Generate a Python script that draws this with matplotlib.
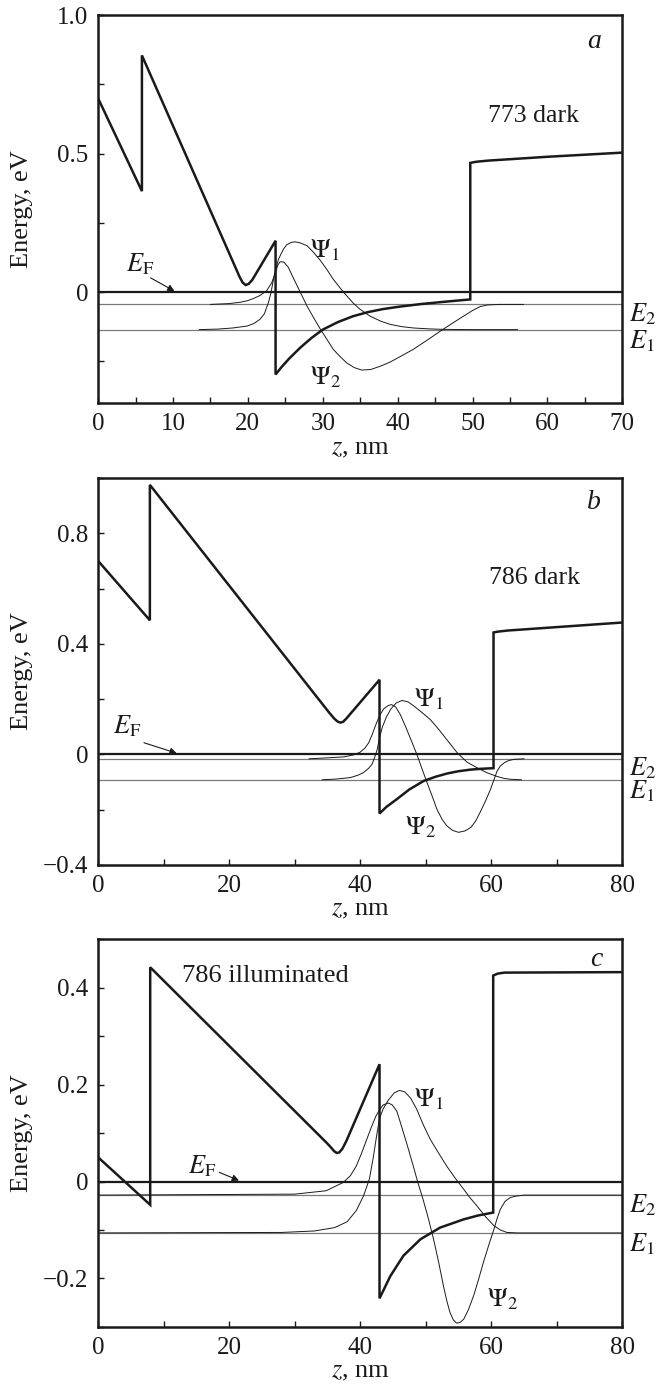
"""Conduction band profiles with subband levels and wavefunctions, three panels."""

import matplotlib
matplotlib.use("Agg")
import matplotlib.pyplot as plt
import matplotlib.ticker as mticker
import matplotlib.transforms as mtransforms

plt.rcParams["font.family"] = ["Liberation Serif", "DejaVu Serif"]
plt.rcParams["mathtext.fontset"] = "stix"

BLACK = "#1a1a1a"
GREY = "#7a7a7a"

# --- panel a: 773 dark ---
z_pot_a = [0, 5.85, 5.85, 18.3, 18.9, 19.3, 19.7, 20.1, 20.6, 23.7, 23.7, 24.5, 25.5, 27.0,
           28.5, 30.0, 32.0, 34.0, 36.0, 38.0, 40.0, 43.0, 46.0, 49.7, 49.7, 50.5, 52.0, 60.0, 70.0]
v_pot_a = [0.70, 0.365, 0.855, 0.092, 0.055, 0.035, 0.026, 0.030, 0.045, 0.186, -0.297, -0.27,
           -0.24, -0.20, -0.165, -0.135, -0.108, -0.087, -0.072, -0.061, -0.053, -0.043, -0.035,
           -0.026, 0.467, 0.471, 0.475, 0.489, 0.504]
e1_a, e2_a = -0.135, -0.044
z_psi1_a = [13.5, 16.0, 18.0, 19.9, 20.8, 21.6, 22.2, 22.75, 23.1, 23.42, 23.73, 24.1, 24.76,
            25.2, 25.8, 26.3, 26.9, 27.9, 28.8, 29.7, 30.6, 31.4, 32.3, 33.2, 34.1, 35.0, 36.3,
            37.7, 39.0, 40.5, 42.1, 44.0, 46.0, 50.0, 56.0]
v_psi1_a = [-0.135, -0.133, -0.129, -0.122, -0.113, -0.098, -0.078, -0.037, 0.0, 0.047, 0.085,
            0.12, 0.156, 0.172, 0.180, 0.182, 0.179, 0.168, 0.143, 0.114, 0.08, 0.047, 0.016,
            -0.013, -0.04, -0.062, -0.086, -0.104, -0.116, -0.124, -0.129, -0.132, -0.134,
            -0.135, -0.135]
z_psi2_a = [15.0, 17.5, 19.0, 19.9, 20.8, 21.6, 22.5, 23.2, 23.73, 24.0, 24.3, 24.8, 25.4, 26.1,
            27.0, 27.9, 28.8, 29.7, 30.6, 31.4, 32.3, 33.2, 34.2, 35.2, 36.4, 37.7, 39.0, 40.5,
            42.1, 44.0, 46.0, 48.0, 50.0, 51.0, 52.0, 53.5, 56.8]
v_psi2_a = [-0.044, -0.041, -0.036, -0.031, -0.022, -0.012, 0.005, 0.035, 0.075, 0.098, 0.110,
            0.109, 0.090, 0.050, 0.0, -0.05, -0.093, -0.134, -0.172, -0.206, -0.232, -0.255,
            -0.272, -0.281, -0.279, -0.267, -0.252, -0.23, -0.206, -0.172, -0.135, -0.100,
            -0.066, -0.052, -0.046, -0.044, -0.044]

# --- panel b: 786 dark ---
z_pot_b = [0, 7.9, 7.9, 35.3, 36.1, 36.6, 37.0, 37.4, 37.9, 42.95, 42.95, 44.0, 45.6, 47.5,
           49.7, 51.5, 53.3, 55.0, 56.9, 58.6, 60.35, 60.35, 61.0, 62.5, 80.0]
v_pot_b = [0.70, 0.485, 0.975, 0.150, 0.128, 0.118, 0.115, 0.118, 0.130, 0.270, -0.214, -0.19,
           -0.162, -0.127, -0.096, -0.081, -0.069, -0.061, -0.055, -0.052, -0.050, 0.441, 0.444,
           0.448, 0.477]
e1_b, e2_b = -0.092, -0.016
z_psi1_b = [34.2, 36.5, 38.5, 39.7, 40.5, 41.3, 41.8, 42.3, 42.6, 42.95, 43.4, 44.0, 44.7, 45.5,
            46.4, 47.3, 48.2, 49.5, 50.7, 52.0, 53.4, 54.8, 56.3, 57.8, 59.3, 60.9, 62.0, 62.9,
            64.6]
v_psi1_b = [-0.092, -0.089, -0.084, -0.075, -0.066, -0.05, -0.036, -0.005, 0.018, 0.06, 0.10,
            0.135, 0.165, 0.186, 0.195, 0.19, 0.175, 0.150, 0.126, 0.09, 0.048, 0.006, -0.028,
            -0.048, -0.066, -0.080, -0.087, -0.090, -0.092]
z_psi2_b = [32.2, 35.4, 37.5, 39.0, 40.0, 40.7, 41.3, 41.8, 42.3, 42.95, 43.6, 44.3, 44.8, 45.4,
            46.1, 46.9, 47.8, 48.65, 49.4, 50.2, 51.0, 51.7, 52.5, 53.2, 54.1, 55.0, 56.0, 56.9,
            57.6, 58.3, 59.1, 59.9, 60.4, 60.9, 61.4, 62.0, 62.7, 63.5, 65.0]
v_psi2_b = [-0.016, -0.012, -0.009, -0.002, 0.008, 0.022, 0.042, 0.07, 0.102, 0.14, 0.165,
            0.177, 0.18, 0.172, 0.145, 0.102, 0.05, 0.0, -0.05, -0.102, -0.152, -0.198, -0.235,
            -0.258, -0.275, -0.282, -0.277, -0.264, -0.242, -0.21, -0.17, -0.126, -0.093,
            -0.060, -0.042, -0.030, -0.022, -0.018, -0.016]

# --- panel c: 786 illuminated ---
z_pot_c = [0, 7.95, 7.95, 34.8, 35.5, 36.0, 36.4, 36.8, 37.3, 37.9, 42.95, 42.95, 44.6, 46.6,
           49.2, 52.2, 55.8, 58.0, 60.3, 60.3, 61.0, 62.0, 80.0]
v_pot_c = [0.05, -0.048, 0.442, 0.081, 0.071, 0.063, 0.059, 0.060, 0.068, 0.084, 0.242, -0.241,
           -0.195, -0.153, -0.119, -0.095, -0.078, -0.070, -0.064, 0.425, 0.429, 0.431, 0.432]
e1_c, e2_c = -0.106, -0.028
z_psi1_c = [0, 28.0, 33.0, 36.1, 38.0, 39.4, 40.5, 41.4, 42.0, 42.5, 42.95, 43.5, 44.3, 45.2,
            46.0, 46.8, 47.7, 48.6, 49.6, 50.7, 52.0, 53.2, 54.5, 55.8, 56.8, 57.8, 59.1, 60.4,
            61.4, 62.4, 64.0, 80.0]
v_psi1_c = [-0.106, -0.105, -0.102, -0.095, -0.083, -0.06, -0.03, 0.005, 0.05, 0.094, 0.13,
            0.15, 0.168, 0.183, 0.188, 0.185, 0.172, 0.150, 0.118, 0.087, 0.058, 0.032, 0.007,
            -0.016, -0.034, -0.050, -0.072, -0.091, -0.100, -0.105, -0.106, -0.106]
z_psi2_c = [0, 30.0, 34.8, 37.4, 38.5, 39.4, 40.2, 41.0, 41.7, 42.4, 42.95, 43.5, 44.3, 44.9,
            45.6, 46.6, 47.4, 48.1, 48.8, 49.6, 50.4, 51.2, 52.0, 52.7, 53.2, 53.7, 54.2, 54.7,
            55.2, 55.8, 56.5, 57.3, 58.0, 58.8, 59.6, 60.4, 60.9, 61.4, 62.1, 62.9, 63.8, 65.0,
            80.0]
v_psi2_c = [-0.028, -0.026, -0.019, -0.002, 0.012, 0.032, 0.058, 0.087, 0.112, 0.135, 0.148,
            0.158, 0.162, 0.158, 0.145, 0.101, 0.065, 0.032, -0.002, -0.037, -0.076, -0.119,
            -0.168, -0.215, -0.245, -0.270, -0.285, -0.292, -0.291, -0.284, -0.265, -0.236,
            -0.205, -0.167, -0.132, -0.099, -0.076, -0.057, -0.041, -0.033, -0.030, -0.028,
            -0.028]

PANELS = [
    dict(pos=[0.146, 0.709, 0.780, 0.280], xlim=(0, 70), ylim=(-0.4, 1.0),
         xmaj=10, xmin=5, ymin=0.25, yticks=[0, 0.5, 1.0],
         pot=(z_pot_a, v_pot_a), e1=e1_a, e2=e2_a,
         psi1=(z_psi1_a, v_psi1_a), psi2=(z_psi2_a, v_psi2_a),
         letter=("a", 66.3, 0.905), sample=("773 dark", 58.2, 0.636, "center", 18.5),
         psi1_lbl=(30.3, 0.152), psi2_lbl=(30.3, -0.305),
         ef_lbl=(5.6, 0.10), ef_arrow=((7.0, 0.052), (10.2, 0.004))),
    dict(pos=[0.146, 0.3755, 0.780, 0.2794], xlim=(0, 80), ylim=(-0.4, 1.0),
         xmaj=20, xmin=10, ymin=0.2, yticks=[-0.4, 0, 0.4, 0.8],
         pot=(z_pot_b, v_pot_b), e1=e1_b, e2=e2_b,
         psi1=(z_psi1_b, v_psi1_b), psi2=(z_psi2_b, v_psi2_b),
         letter=("b", 75.7, 0.91), sample=("786 dark", 66.6, 0.637, "center", 18.5),
         psi1_lbl=(50.5, 0.198), psi2_lbl=(49.2, -0.264),
         ef_lbl=(4.4, 0.102), ef_arrow=((7.0, 0.042), (12.0, 0.004))),
    dict(pos=[0.146, 0.0419, 0.780, 0.280], xlim=(0, 80), ylim=(-0.3, 0.5),
         xmaj=20, xmin=10, ymin=0.1, yticks=[-0.2, 0, 0.2, 0.4],
         pot=(z_pot_c, v_pot_c), e1=e1_c, e2=e2_c,
         psi1=(z_psi1_c, v_psi1_c), psi2=(z_psi2_c, v_psi2_c),
         letter=("c", 76.1, 0.458), sample=("786 illuminated", 12.8, 0.423, "left", 19),
         psi1_lbl=(50.5, 0.169), psi2_lbl=(61.7, -0.242),
         ef_lbl=(15.8, 0.032), ef_arrow=((18.5, 0.019), (21.5, 0.002))),
]


def tick_text(value, _):
    """Format tick labels as 0, 0.5, -0.4 with a real minus sign."""
    if abs(value) < 1e-9:
        return "0"
    return f"{value:.1f}".replace("-", "\u2212")


fig = plt.figure(figsize=(6.72, 13.85), dpi=100)

for panel in PANELS:
    ax = fig.add_axes(panel["pos"])
    ax.set_xlim(*panel["xlim"])
    ax.set_ylim(*panel["ylim"])

    # subband levels (grey) and Fermi level
    ax.axhline(panel["e2"], color=GREY, lw=0.9, zorder=1)
    ax.axhline(panel["e1"], color=GREY, lw=0.9, zorder=1)
    ax.axhline(0, color=BLACK, lw=1.6, zorder=3)

    # wavefunctions
    ax.plot(*panel["psi1"], color=BLACK, lw=0.7, zorder=2)
    ax.plot(*panel["psi2"], color=BLACK, lw=0.7, zorder=2)

    # conduction band edge
    ax.plot(*panel["pot"], color=BLACK, lw=1.8, zorder=4, solid_joinstyle="miter")

    ax.xaxis.set_major_locator(mticker.MultipleLocator(panel["xmaj"]))
    ax.xaxis.set_minor_locator(mticker.MultipleLocator(panel["xmin"]))
    ax.set_yticks(panel["yticks"])
    ax.yaxis.set_minor_locator(mticker.MultipleLocator(panel["ymin"]))
    ax.yaxis.set_major_formatter(mticker.FuncFormatter(tick_text))
    ax.tick_params(which="both", direction="in", length=4, width=1.0,
                   top=False, right=False, labelsize=18, pad=7, colors=BLACK)
    for spine in ax.spines.values():
        spine.set_linewidth(1.8)
        spine.set_color(BLACK)

    ax.set_xlabel("$z$, nm", fontsize=19, labelpad=2, color=BLACK)
    ax.set_ylabel("Energy, eV", fontsize=19, color=BLACK)
    ax.yaxis.set_label_coords(-0.125, 0.5)

    letter, lx, ly = panel["letter"]
    ax.text(lx, ly, letter, fontsize=20, style="italic", ha="center", va="center", color=BLACK)
    name, sx, sy, sha, sfs = panel["sample"]
    ax.text(sx, sy, name, fontsize=sfs, ha=sha, va="center", color=BLACK)

    ax.text(*panel["psi1_lbl"], r"$\Psi_1$", fontsize=19, ha="center", va="center", color=BLACK)
    ax.text(*panel["psi2_lbl"], r"$\Psi_2$", fontsize=19, ha="center", va="center", color=BLACK)

    ax.text(*panel["ef_lbl"], r"$E_{\rm F}$", fontsize=19, ha="center", va="center", color=BLACK)
    start, end = panel["ef_arrow"]
    ax.annotate("", xy=end, xytext=start,
                arrowprops=dict(arrowstyle="-|>", color=BLACK, lw=0.8,
                                mutation_scale=10, shrinkA=0, shrinkB=0))

    # level labels just outside the right spine
    trans = mtransforms.blended_transform_factory(ax.transAxes, ax.transData)
    span = panel["ylim"][1] - panel["ylim"][0]
    ax.text(1.012, panel["e2"] - 0.025 * span, r"$E_2$", transform=trans, fontsize=19,
            ha="left", va="center", color=BLACK, clip_on=False)
    ax.text(1.012, panel["e1"] - 0.03 * span, r"$E_1$", transform=trans, fontsize=19,
            ha="left", va="center", color=BLACK, clip_on=False)

fig.savefig("out.png", dpi=100, facecolor="white")
